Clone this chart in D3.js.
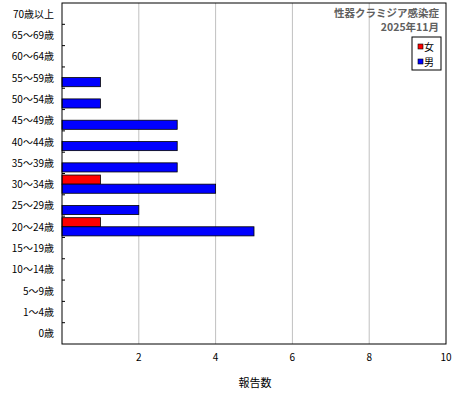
<!DOCTYPE html>
<html><head><meta charset="utf-8">
<script src="https://d3js.org/d3.v7.min.js"></script>
<style>body{margin:0;background:#fff}text{font-family:"Noto Sans CJK JP",sans-serif}</style>
</head><body><div id="chart"></div>
<script>
const ages = ["70歳以上","65～69歳","60～64歳","55～59歳","50～54歳","45～49歳","40～44歳","35～39歳","30～34歳","25～29歳","20～24歳","15～19歳","10～14歳","5～9歳","1～4歳","0歳"];
const female = [0,0,0,0,0,0,0,0,1,0,1,0,0,0,0,0];
const male   = [0,0,0,1,1,3,3,3,4,2,5,0,0,0,0,0];
const xTicks = [2,4,6,8,10];
const sexes = ["女","男"];
const colors = {"女":"#ff0000","男":"#0000ff"};

const W = 460, H = 400, L = 62, R = 446, T = 3, B = 344;
const svg = d3.select("#chart").append("svg").attr("width", W).attr("height", H);

const x = d3.scaleLinear().domain([0, 10]).range([L, R]);
const y = d3.scaleBand().domain(ages).range([T, B]);
const ySex = d3.scaleBand().domain(sexes).range([0, y.bandwidth()]).paddingOuter(0.17);

// gridlines
svg.append("g").selectAll("line").data(xTicks.slice(0, -1)).join("line")
    .attr("x1", d => x(d)).attr("x2", d => x(d))
    .attr("y1", T).attr("y2", B)
    .attr("stroke", "#c0c0c0");

// bars
const rows = [];
ages.forEach((a, i) => {
    if (female[i] > 0) rows.push({age: a, sex: "女", v: female[i]});
    if (male[i] > 0) rows.push({age: a, sex: "男", v: male[i]});
});
svg.append("g").selectAll("rect").data(rows).join("rect")
    .attr("x", x(0))
    .attr("y", d => y(d.age) + ySex(d.sex))
    .attr("width", d => x(d.v) - x(0))
    .attr("height", ySex.bandwidth())
    .attr("fill", d => colors[d.sex])
    .attr("stroke", "#000").attr("stroke-width", 0.8);

// frame
svg.append("rect").attr("x", L).attr("y", T).attr("width", R - L).attr("height", B - T)
    .attr("fill", "none").attr("stroke", "#000");

// y ticks at band boundaries
svg.append("g").selectAll("line").data(ages.slice(1)).join("line")
    .attr("x1", L).attr("x2", L + 3)
    .attr("y1", d => y(d)).attr("y2", d => y(d))
    .attr("stroke", "#000");

// y labels
svg.append("g").selectAll("text").data(ages).join("text")
    .attr("x", L - 8).attr("y", d => y(d) + y.bandwidth() / 2 + 4)
    .attr("text-anchor", "end").attr("font-size", 10)
    .text(d => d);

// x labels
svg.append("g").selectAll("text").data(xTicks).join("text")
    .attr("x", d => x(d)).attr("y", 361)
    .attr("text-anchor", "middle").attr("font-size", 10)
    .text(d => d);

svg.append("text").attr("x", 255).attr("y", 387).attr("text-anchor", "middle")
    .attr("font-size", 11).text("報告数");

// title
svg.append("text").attr("x", 439).attr("y", 17).attr("text-anchor", "end")
    .attr("font-size", 10.5).attr("font-weight", "bold").attr("fill", "#606060").text("性器クラミジア感染症");
svg.append("text").attr("x", 439).attr("y", 31).attr("text-anchor", "end")
    .attr("font-size", 10.5).attr("font-weight", "bold").attr("fill", "#606060").text("2025年11月");

// legend
const lg = svg.append("g");
lg.append("rect").attr("x", 412).attr("y", 37).attr("width", 29).attr("height", 33)
    .attr("fill", "#fff").attr("stroke", "#000");
lg.selectAll("rect.k").data(sexes).join("rect").attr("class", "k")
    .attr("x", 418).attr("y", (d, i) => 44 + i * 15).attr("width", 5).attr("height", 5)
    .attr("fill", d => colors[d]).attr("stroke", "#000").attr("stroke-width", 0.6);
lg.selectAll("text").data(sexes).join("text")
    .attr("x", 424).attr("y", (d, i) => 51 + i * 15).attr("font-size", 10)
    .text(d => d);
</script></body></html>
